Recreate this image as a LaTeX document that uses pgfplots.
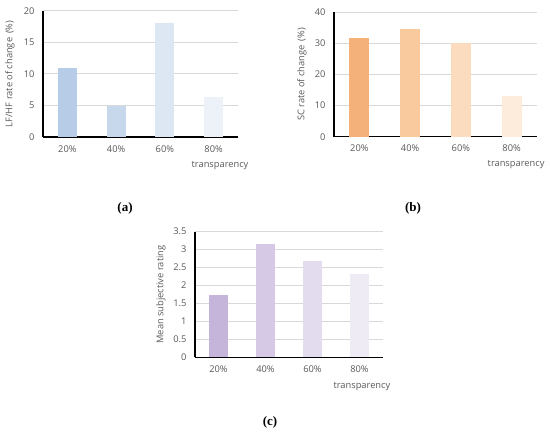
\documentclass[border=0pt]{standalone}
\usepackage{pgfplots}
\pgfplotsset{compat=1.18}
\usepackage{fontspec}
\setmainfont{Open Sans}
\newfontfamily\capfont{Liberation Serif}

\definecolor{txtgray}{HTML}{595959}
\definecolor{gridgray}{HTML}{D9D9D9}
\definecolor{ba}{HTML}{B7CCE6}
\definecolor{bb}{HTML}{C8D8EC}
\definecolor{bc}{HTML}{DDE7F3}
\definecolor{bd}{HTML}{EDF2F9}
\definecolor{oa}{HTML}{F4B27A}
\definecolor{ob}{HTML}{F8CA9E}
\definecolor{oc}{HTML}{FBDCBF}
\definecolor{od}{HTML}{FDEBDB}
\definecolor{pa}{HTML}{C5B5DA}
\definecolor{pb}{HTML}{D5C9E5}
\definecolor{pc}{HTML}{E3DBEE}
\definecolor{pd}{HTML}{EFEBF5}

\pgfplotsset{
  panel/.style={
    scale only axis,
    anchor=south west,
    xmin=-0.5, xmax=3.5, ymin=0,
    axis lines*=left,
    axis line style={black, line width=1.3pt},
    xtick={0,1,2,3},
    xticklabels={20\%,40\%,60\%,80\%},
    major tick length=0pt,
    ymajorgrids,
    grid style={gridgray, line width=0.8pt},
    tick label style={font=\fontsize{9.3}{11}\selectfont, text=txtgray},
    label style={font=\fontsize{9.3}{11}\selectfont, text=txtgray},
    /pgf/number format/assume math mode=true,
    xticklabel style={yshift=-5pt},
    yticklabel style={xshift=-5pt},
    xlabel={transparency},
    clip=false,
  },
  onebar/.style={ybar, bar shift=0pt, draw=none, fill=#1},
}

\begin{document}
\begin{tikzpicture}
\path[use as bounding box] (0pt,0pt) rectangle (550pt,438pt);

% (a)
\begin{axis}[panel,
  at={(43pt,301pt)}, width=195pt, height=126.3pt,
  ymax=20, ytick={0,5,...,20},
  ylabel={LF/HF rate of change\ \,(\%)},
  ylabel style={at={(axis description cs:-0.169,0.5)}, anchor=center},
  xlabel style={at={(axis description cs:0.908,-0.23)}, anchor=center},
]
\addplot[onebar=ba, bar width=19pt] coordinates {(0,11.0)};
\addplot[onebar=bb, bar width=19pt] coordinates {(1,4.9)};
\addplot[onebar=bc, bar width=19pt] coordinates {(2,18.1)};
\addplot[onebar=bd, bar width=19pt] coordinates {(3,6.3)};
\end{axis}

% (b)
\begin{axis}[panel,
  at={(334pt,301.3pt)}, width=203pt, height=124.4pt,
  ymax=40, ytick={0,10,...,40},
  ylabel={SC rate of change\ \,(\%)},
  ylabel style={at={(axis description cs:-0.158,0.5)}, anchor=center},
  xlabel style={at={(axis description cs:0.897,-0.227)}, anchor=center},
]
\addplot[onebar=oa, bar width=20pt] coordinates {(0,31.6)};
\addplot[onebar=ob, bar width=20pt] coordinates {(1,34.5)};
\addplot[onebar=oc, bar width=20pt] coordinates {(2,30.2)};
\addplot[onebar=od, bar width=20pt] coordinates {(3,13.1)};
\end{axis}

% (c)
\begin{axis}[panel,
  at={(195pt,80.7pt)}, width=188pt, height=125.6pt,
  ymax=3.5, ytick={0,0.5,...,3.5},
  ylabel={Mean subjective rating},
  ylabel style={at={(axis description cs:-0.181,0.5)}, anchor=center},
  xlabel style={at={(axis description cs:0.888,-0.234)}, anchor=center},
]
\addplot[onebar=pa, bar width=19pt] coordinates {(0,1.74)};
\addplot[onebar=pb, bar width=19pt] coordinates {(1,3.16)};
\addplot[onebar=pc, bar width=19pt] coordinates {(2,2.68)};
\addplot[onebar=pd, bar width=19pt] coordinates {(3,2.32)};
\end{axis}

\node[font=\capfont\bfseries\fontsize{13}{15}\selectfont] at (125pt,230pt) {(a)};
\node[font=\capfont\bfseries\fontsize{13}{15}\selectfont] at (413pt,230pt) {(b)};
\node[font=\capfont\bfseries\fontsize{13}{15}\selectfont] at (270pt,16pt) {(c)};
\end{tikzpicture}
\end{document}
